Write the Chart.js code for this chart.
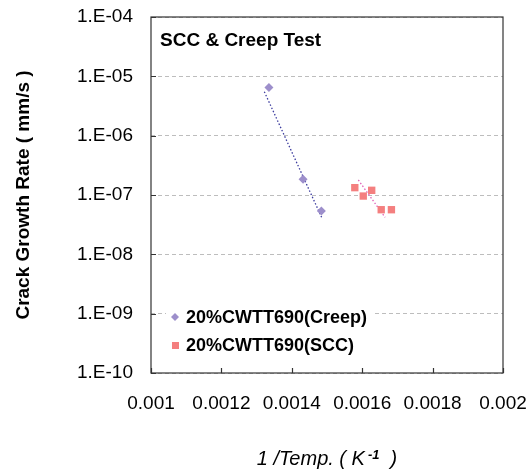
<!DOCTYPE html>
<html>
<head>
<meta charset="utf-8">
<script src="https://cdn.jsdelivr.net/npm/chart.js@4"></script>
<style>
  html, body { margin: 0; padding: 0; background: #fff; }
</style>
</head>
<body>
<canvas id="chart" width="532" height="470"></canvas>
<script>
// measured points (1/T, crack growth rate mm/s)
const creepX = [0.001335, 0.001432, 0.001484];
const creepY = [6.5e-6, 1.84e-7, 5.4e-8];
const sccX = [0.001579, 0.001603, 0.001627, 0.001654, 0.001683];
const sccY = [1.33e-7, 9.6e-8, 1.2e-7, 5.65e-8, 5.65e-8];

// trend line end points
const creepTrendX = [0.001322, 0.001486];
const creepTrendY = [5.5e-6, 4.05e-8];
const sccTrendX = [0.001589, 0.001665];
const sccTrendY = [1.79e-7, 4.2e-8];

const seriesNames = ['20%CWTT690(Creep)', '20%CWTT690(SCC)'];
const xTicks = [0.001, 0.0012, 0.0014, 0.0016, 0.0018, 0.002];
const xTickLabels = ['0.001', '0.0012', '0.0014', '0.0016', '0.0018', '0.002'];
const yTicks = [1e-10, 1e-9, 1e-8, 1e-7, 1e-6, 1e-5, 1e-4];
const yTickLabels = ['1.E-10', '1.E-09', '1.E-08', '1.E-07', '1.E-06', '1.E-05', '1.E-04'];

const FONT = "Arial, 'Liberation Sans', sans-serif";
const creepColor = '#9d8fcb';
const sccColor = '#f47f7f';

function pts(xs, ys) {
  return xs.map((x, i) => ({ x: x, y: ys[i] }));
}

// frame, inward ticks, chart title, x title and legend
const decor = {
  id: 'decor',
  afterDatasetsDraw(chart) {
    const ctx = chart.ctx;
    const a = chart.chartArea;
    const xs = chart.scales.x;
    const ys = chart.scales.y;
    ctx.save();

    // legend box
    ctx.fillStyle = '#fff';
    ctx.fillRect(166, 302, 208, 58);
    const rows = [
      { y: 317, color: creepColor, style: 'diamond' },
      { y: 345, color: sccColor, style: 'square' }
    ];
    rows.forEach((r, i) => {
      ctx.fillStyle = r.color;
      ctx.beginPath();
      if (r.style === 'diamond') {
        ctx.moveTo(175, r.y - 4);
        ctx.lineTo(179, r.y);
        ctx.lineTo(175, r.y + 4);
        ctx.lineTo(171, r.y);
      } else {
        ctx.rect(172, r.y - 3, 7, 7);
      }
      ctx.closePath();
      ctx.fill();
      ctx.fillStyle = '#000';
      ctx.font = 'bold 18px ' + FONT;
      ctx.textBaseline = 'middle';
      ctx.textAlign = 'left';
      ctx.fillText(seriesNames[i], 186, r.y + 1);
    });

    // frame
    ctx.strokeStyle = '#333';
    ctx.lineWidth = 1.2;
    ctx.setLineDash([]);
    ctx.strokeRect(a.left, a.top, a.right - a.left, a.bottom - a.top);

    // inward tick marks
    ctx.beginPath();
    yTicks.forEach(v => {
      const py = Math.round(ys.getPixelForValue(v)) + 0.5;
      ctx.moveTo(a.left, py);
      ctx.lineTo(a.left + 5, py);
    });
    xTicks.forEach(v => {
      const px = Math.round(xs.getPixelForValue(v)) + 0.5;
      ctx.moveTo(px, a.bottom);
      ctx.lineTo(px, a.bottom - 5);
    });
    ctx.stroke();

    // chart title inside the plot
    ctx.fillStyle = '#000';
    ctx.font = 'bold 19px ' + FONT;
    ctx.textAlign = 'left';
    ctx.textBaseline = 'middle';
    ctx.fillText('SCC & Creep Test', 160, 41);

    // x axis title with superscript
    const part1 = '1 /Temp. ( K';
    const sup = '-1';
    const part2 = '  )';
    ctx.textBaseline = 'alphabetic';
    ctx.font = 'italic 20px ' + FONT;
    const w1 = ctx.measureText(part1).width + 3;
    const w3 = ctx.measureText(part2).width;
    ctx.font = 'italic bold 13px ' + FONT;
    const w2 = ctx.measureText(sup).width;
    let x0 = (a.left + a.right) / 2 - (w1 + w2 + w3) / 2;
    const base = 465;
    ctx.font = 'italic 20px ' + FONT;
    ctx.fillText(part1, x0, base);
    ctx.font = 'italic bold 13px ' + FONT;
    ctx.fillText(sup, x0 + w1, base - 6);
    ctx.font = 'italic 20px ' + FONT;
    ctx.fillText(part2, x0 + w1 + w2, base);

    ctx.restore();
  }
};

new Chart(document.getElementById('chart'), {
  type: 'scatter',
  data: {
    datasets: [
      {
        label: seriesNames[0],
        data: pts(creepX, creepY),
        pointStyle: 'rectRot',
        pointRadius: 4.5,
        pointHoverRadius: 4.5,
        backgroundColor: creepColor,
        borderColor: creepColor,
        borderWidth: 0
      },
      {
        label: seriesNames[1],
        data: pts(sccX, sccY),
        pointStyle: 'rect',
        pointRadius: 5.2,
        pointHoverRadius: 5.2,
        backgroundColor: sccColor,
        borderColor: sccColor,
        borderWidth: 0
      },
      {
        label: 'creep trend',
        data: pts(creepTrendX, creepTrendY),
        showLine: true,
        pointRadius: 0,
        borderColor: '#3b3b9e',
        borderWidth: 1.3,
        borderDash: [1.5, 2]
      },
      {
        label: 'scc trend',
        data: pts(sccTrendX, sccTrendY),
        showLine: true,
        pointRadius: 0,
        borderColor: '#e060b8',
        borderWidth: 1.3,
        borderDash: [1.5, 2]
      }
    ]
  },
  options: {
    responsive: false,
    animation: false,
    layout: { padding: { left: 0, right: 29, top: 17, bottom: 0 } },
    plugins: {
      legend: { display: false },
      tooltip: { enabled: false }
    },
    scales: {
      x: {
        type: 'linear',
        min: 0.001,
        max: 0.002,
        afterBuildTicks: s => { s.ticks = xTicks.map(v => ({ value: v })); },
        afterFit: s => { s.height = 97; s.paddingLeft = 0; s.paddingRight = 0; },
        grid: { display: false, drawTicks: false },
        border: { display: false },
        ticks: {
          padding: 19,
          maxRotation: 0,
          autoSkip: false,
          color: '#000',
          font: { family: FONT, size: 19 },
          callback: (v, i) => xTickLabels[i]
        }
      },
      y: {
        type: 'logarithmic',
        min: 1e-10,
        max: 1e-4,
        afterBuildTicks: s => { s.ticks = yTicks.map(v => ({ value: v })); },
        afterFit: s => { s.width = 151; s.paddingTop = 0; s.paddingBottom = 0; },
        grid: { color: '#bdbdbd', lineWidth: 1, drawTicks: false },
        border: { display: false, dash: [4, 3] },
        title: {
          display: true,
          text: 'Crack Growth Rate ( mm/s )',
          color: '#000',
          font: { family: FONT, size: 19, weight: 'bold' },
          padding: { top: 12, bottom: 0 }
        },
        ticks: {
          padding: 18,
          autoSkip: false,
          color: '#000',
          font: { family: FONT, size: 19 },
          callback: (v, i) => yTickLabels[i]
        }
      }
    }
  },
  plugins: [decor]
});
</script>
</body>
</html>
